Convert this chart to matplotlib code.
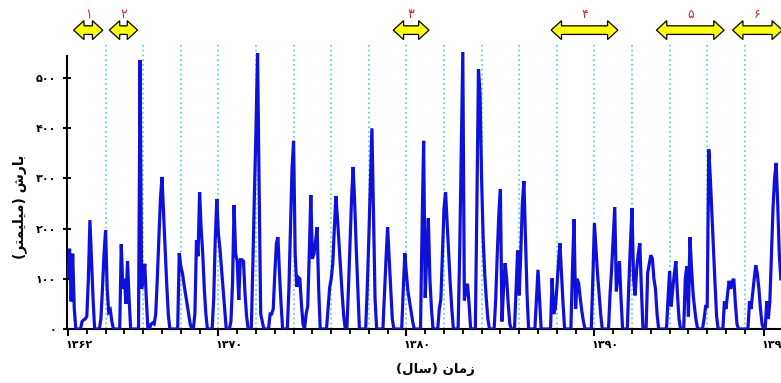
import numpy as np
import matplotlib
matplotlib.use('Agg')
import matplotlib.pyplot as plt
from matplotlib.patches import Polygon
from matplotlib.transforms import blended_transform_factory, ScaledTranslation

plt.rcParams['font.family'] = ['DejaVu Sans']

start_year = 1362
# monthly precipitation (mm), one row per year
rain_mm = [
    105, 160, 55, 150, 40, 0, 0, 0, 0, 15, 18, 20,        # 1362
    25, 100, 217, 140, 60, 0, 0, 0, 0, 20, 80, 150,       # 1363
    197, 80, 34, 38, 15, 0, 0, 0, 0, 0, 169, 80,          # 1364
    100, 50, 135, 60, 0, 0, 0, 0, 0, 0, 536, 80,          # 1365
    100, 130, 60, 0, 0, 10, 12, 10, 30, 100, 180, 260,    # 1366
    303, 230, 160, 90, 30, 0, 0, 0, 0, 0, 0, 151,         # 1367
    125, 112, 90, 70, 50, 30, 10, 0, 0, 30, 177, 145,     # 1368
    273, 200, 150, 80, 30, 0, 0, 0, 0, 60, 180, 259,      # 1369
    190, 160, 120, 80, 40, 0, 0, 0, 15, 90, 247, 150,     # 1370
    135, 58, 138, 138, 135, 70, 25, 0, 0, 0, 130, 270,    # 1371
    400, 550, 280, 30, 15, 0, 0, 0, 0, 30, 30, 40,        # 1372
    110, 170, 183, 110, 50, 0, 0, 0, 0, 80, 200, 320,     # 1373
    375, 150, 84, 103, 100, 50, 10, 0, 30, 45, 150, 267,  # 1374
    140, 150, 175, 203, 80, 0, 0, 0, 0, 0, 40, 82,        # 1375
    100, 130, 200, 265, 220, 170, 120, 70, 25, 0, 0, 80,  # 1376
    170, 260, 323, 250, 160, 80, 0, 0, 0, 0, 0, 80,       # 1377
    180, 290, 400, 230, 60, 0, 0, 0, 0, 0, 70, 140,       # 1378
    203, 140, 80, 20, 0, 0, 0, 0, 0, 0, 80, 151,          # 1379
    110, 75, 55, 35, 15, 0, 0, 0, 0, 0, 200, 375,         # 1380
    62, 150, 221, 100, 40, 0, 0, 0, 0, 40, 60, 150,       # 1381
    240, 273, 210, 150, 90, 40, 0, 0, 0, 0, 150, 350,     # 1382
    552, 57, 80, 90, 50, 0, 0, 0, 0, 250, 518, 470,       # 1383
    300, 180, 110, 60, 20, 0, 0, 0, 0, 60, 150, 230,      # 1384
    279, 15, 80, 131, 100, 50, 10, 0, 0, 0, 80, 157,      # 1385
    67, 150, 250, 295, 180, 70, 0, 0, 0, 0, 0, 60,        # 1386
    118, 60, 0, 0, 0, 0, 0, 0, 0, 101, 30, 40,            # 1387
    80, 130, 171, 110, 50, 0, 0, 0, 0, 0, 120, 219,       # 1388
    40, 100, 90, 60, 35, 15, 0, 0, 0, 0, 0, 100,          # 1389
    211, 160, 110, 70, 30, 0, 0, 0, 0, 0, 70, 120,        # 1390
    180, 243, 75, 110, 135, 60, 0, 0, 0, 0, 90, 170,      # 1391
    241, 100, 67, 120, 150, 171, 80, 0, 0, 0, 112, 130,   # 1392
    147, 140, 100, 80, 30, 0, 0, 0, 0, 0, 0, 60,          # 1393
    115, 45, 80, 110, 135, 70, 20, 0, 0, 0, 100, 125,     # 1394
    25, 183, 120, 70, 40, 15, 0, 0, 0, 0, 20, 45,         # 1395
    45, 358, 300, 230, 160, 90, 25, 0, 0, 0, 0, 55,       # 1396
    40, 70, 96, 80, 95, 100, 50, 10, 0, 0, 0, 0,          # 1397
    0, 0, 0, 55, 40, 70, 100, 127, 110, 80, 40, 10,       # 1398
    0, 0, 55, 20, 55, 150, 240, 300, 331, 250, 150, 100,  # 1399
]

grid_years = list(range(1364, 1399, 2))
year_ticks = [1362, 1370, 1380, 1390, 1399]
year_labels = ['۱۳۶۲', '۱۳۷۰', '۱۳۸۰', '۱۳۹۰', '۱۳۹۹']
rain_ticks = [0, 100, 200, 300, 400, 500]
rain_labels = ['۰', '۱۰۰', '۲۰۰', '۳۰۰', '۴۰۰', '۵۰۰']

period_start = [1362.3, 1364.2, 1379.3, 1387.7, 1393.3, 1397.35]
period_end = [1363.85, 1365.7, 1381.2, 1391.25, 1396.9, 1400.0]
period_labels = ['۱', '۲', '۳', '۴', '۵', '۶']

# Persian titles, pre-shaped (presentation forms, visual order)
xlabel_txt = '(\uFEDD\uFE8E\uFEB3) \uFEE5\uFE8E\uFEE3\uFEAF'
ylabel_txt = '(\uFEAE\uFE98\uFEE4\uFEF4\uFEE0\uFEF4\uFEE3) \uFEB5\uFEAD\uFE8E\uFE91'


def double_arrow(ax, x0, x1, yc, head=0.55, H=0.033, s=0.015):
    tr = blended_transform_factory(ax.transData, ax.transAxes)
    verts = [(x0, yc), (x0+head, yc+H), (x0+head, yc+s), (x1-head, yc+s),
             (x1-head, yc+H), (x1, yc), (x1-head, yc-H), (x1-head, yc-s),
             (x0+head, yc-s), (x0+head, yc-H)]
    ax.add_patch(Polygon(verts, closed=True, transform=tr, clip_on=False,
                         fc='#ffff14', ec='black', lw=0.9, zorder=5))


def main():
    fig = plt.figure(figsize=(7.81, 3.83), dpi=100)
    ax = fig.add_axes([67/781, 54/383, 715.4/781, 286/383])

    t = start_year + np.arange(len(rain_mm))/12.
    for gy in grid_years:
        ax.axvline(gy, color='#6fd0dc', ls=':', lw=1.3, zorder=1)
    ax.plot(t, rain_mm, color='#1010dd', lw=2.3, zorder=3, solid_joinstyle='miter')

    ax.set_xlim(start_year - 1/18.8, 1400.0)
    ax.set_ylim(0, 570)
    for sp in ['top', 'right']:
        ax.spines[sp].set_visible(False)
    ax.spines['left'].set_bounds(0, 545)
    ax.spines['left'].set_linewidth(1.5)
    ax.spines['bottom'].set_linewidth(1.5)

    ax.set_yticks(rain_ticks)
    ax.set_yticklabels(rain_labels, fontsize=8, fontweight='bold')
    ax.tick_params(axis='y', direction='inout', length=6, width=1.5, pad=5)
    ax.set_xticks(year_ticks)
    ax.set_xticklabels(year_labels, fontsize=8, fontweight='bold')
    ax.set_xticks(range(1362, 1400), minor=True)
    ax.tick_params(axis='x', which='major', direction='out', length=5, width=1.5, pad=3)
    ax.tick_params(axis='x', which='minor', direction='out', length=3.5, width=1.3)
    shift = ScaledTranslation(-2.5/100, 0, fig.dpi_scale_trans)
    for lbl in ax.get_xticklabels():
        lbl.set_ha('left')
        lbl.set_transform(lbl.get_transform() + shift)

    for i in range(len(period_labels)):
        double_arrow(ax, period_start[i], period_end[i], 1.045)
        mid = (period_start[i] + period_end[i])/2.
        ax.text(mid, 1.1, period_labels[i], transform=blended_transform_factory(ax.transData, ax.transAxes),
                ha='center', va='center', color='#d42a2a', fontsize=9, clip_on=False)

    fig.text(435/781, 1-369/383, xlabel_txt, ha='center', va='center', fontsize=9.5, fontweight='bold')
    fig.text(20/781, 1-207/383, ylabel_txt, ha='center', va='center', rotation=90, fontsize=10, fontweight='bold')

    fig.savefig('out.png', dpi=100)


if __name__ == '__main__':
    main()
